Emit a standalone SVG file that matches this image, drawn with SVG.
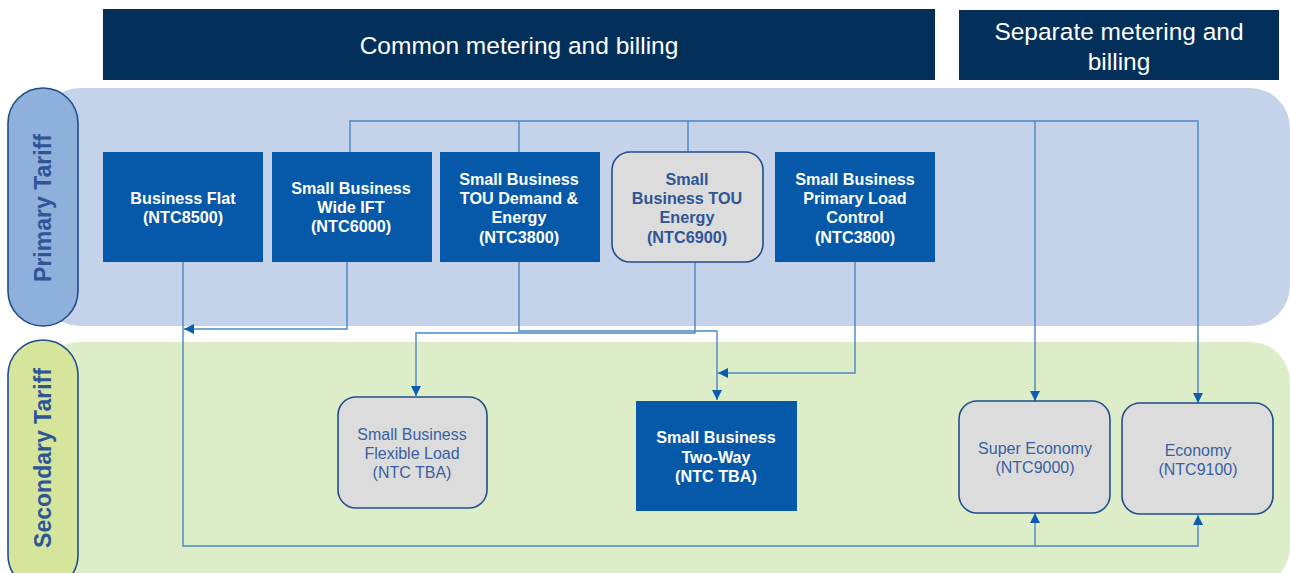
<svg xmlns="http://www.w3.org/2000/svg" width="1290" height="573" viewBox="0 0 1290 573">
  <style>
    text { font-family: "Liberation Sans", Arial, sans-serif; text-anchor: middle; dominant-baseline: central; }
    .hdr { fill: #03305a; }
    .hdr-t { fill: #ffffff; font-size: 24.5px; }
    .lane-t { fill: #2f5597; font-size: 23px; font-weight: bold; }
    .blue { fill: #0559a8; }
    .blue-t { fill: #ffffff; font-size: 16.2px; font-weight: bold; }
    .grey { fill: #dcdcdc; stroke: #1f4e8c; stroke-width: 1.6; }
    .grey-tb { fill: #2f5597; font-size: 16.2px; font-weight: bold; }
    .grey-t { fill: #3a5fa0; font-size: 16px; }
    .wire { fill: none; stroke: #4a86c5; stroke-width: 1.4; }
  </style>
  <defs>
    <marker id="arrow" viewBox="0 0 10 10" refX="10" refY="5" markerWidth="10" markerHeight="10" markerUnits="userSpaceOnUse" orient="auto">
      <path d="M0,0 L10,5 L0,10 Z" fill="#0a5db0"/>
    </marker>
  </defs>

  <!-- column headers -->
  <g id="hdr-common">
    <rect class="hdr" x="103" y="9" width="832" height="71"/>
    <text class="hdr-t" x="519" y="45">Common metering and billing</text>
  </g>
  <g id="hdr-separate">
    <rect class="hdr" x="959" y="10" width="320" height="70"/>
    <text class="hdr-t" x="1119" y="31">Separate metering and</text>
    <text class="hdr-t" x="1119" y="61">billing</text>
  </g>

  <!-- swim lanes -->
  <g id="lane-primary">
    <rect x="40" y="88" width="1250" height="238" rx="40" fill="#c5d3ea"/>
    <rect x="8" y="88" width="70" height="238" rx="35" fill="#8eb0da" stroke="#1f4e8c" stroke-width="1.6"/>
    <text class="lane-t" transform="translate(43 208) rotate(-90)">Primary Tariff</text>
  </g>
  <g id="lane-secondary">
    <rect x="40" y="342" width="1250" height="245" rx="40" fill="#ddedc8"/>
    <rect x="8" y="340" width="70" height="250" rx="35" fill="#d5e59b" stroke="#1f4e8c" stroke-width="1.6"/>
    <text class="lane-t" transform="translate(43 458) rotate(-90)">Secondary Tariff</text>
  </g>

  <!-- connectors -->
  <g id="connectors">
    <!-- top bus to separate-metering tariffs -->
    <path class="wire" d="M350,152 V121 H1198 V403" marker-end="url(#arrow)"/>
    <path class="wire" d="M519,152 V121"/>
    <path class="wire" d="M688,152 V121"/>
    <path class="wire" d="M1035,121 V401" marker-end="url(#arrow)"/>
    <!-- bottom bus from Business Flat -->
    <path class="wire" d="M183,262 V546 H1198 V515" marker-end="url(#arrow)"/>
    <path class="wire" d="M1035,546 V513" marker-end="url(#arrow)"/>
    <!-- Wide IFT back to Business Flat -->
    <path class="wire" d="M347,262 V329 H184" marker-end="url(#arrow)"/>
    <!-- TOU Demand & Energy to Two-Way -->
    <path class="wire" d="M519,262 V331 H717 V400" marker-end="url(#arrow)"/>
    <!-- TOU Energy to Flexible Load -->
    <path class="wire" d="M695,262 V333 H416 V396" marker-end="url(#arrow)"/>
    <!-- Primary Load Control to Two-Way -->
    <path class="wire" d="M855,262 V373 H718" marker-end="url(#arrow)"/>
  </g>

  <!-- primary tariffs -->
  <g id="business-flat">
    <rect class="blue" x="103" y="152" width="160" height="110"/>
    <text class="blue-t" x="183" y="198">Business Flat</text>
    <text class="blue-t" x="183" y="217">(NTC8500)</text>
  </g>
  <g id="wide-ift">
    <rect class="blue" x="272" y="152" width="160" height="110"/>
    <text class="blue-t" x="351" y="188">Small Business</text>
    <text class="blue-t" x="351" y="207">Wide IFT</text>
    <text class="blue-t" x="351" y="226">(NTC6000)</text>
  </g>
  <g id="tou-demand-energy">
    <rect class="blue" x="440" y="152" width="160" height="110"/>
    <text class="blue-t" x="519" y="179">Small Business</text>
    <text class="blue-t" x="519" y="198">TOU Demand &amp;</text>
    <text class="blue-t" x="519" y="217">Energy</text>
    <text class="blue-t" x="519" y="237">(NTC3800)</text>
  </g>
  <g id="tou-energy">
    <rect class="grey" x="612" y="152" width="151" height="110" rx="18"/>
    <text class="grey-tb" x="687" y="179">Small</text>
    <text class="grey-tb" x="687" y="198">Business TOU</text>
    <text class="grey-tb" x="687" y="217">Energy</text>
    <text class="grey-tb" x="687" y="237">(NTC6900)</text>
  </g>
  <g id="primary-load-control">
    <rect class="blue" x="775" y="152" width="160" height="110"/>
    <text class="blue-t" x="855" y="179">Small Business</text>
    <text class="blue-t" x="855" y="198">Primary Load</text>
    <text class="blue-t" x="855" y="217">Control</text>
    <text class="blue-t" x="855" y="237">(NTC3800)</text>
  </g>

  <!-- secondary tariffs -->
  <g id="flexible-load">
    <rect class="grey" x="338" y="397" width="149" height="111" rx="18"/>
    <text class="grey-t" x="412" y="434">Small Business</text>
    <text class="grey-t" x="412" y="453">Flexible Load</text>
    <text class="grey-t" x="412" y="472">(NTC TBA)</text>
  </g>
  <g id="two-way">
    <rect class="blue" x="636" y="401" width="161" height="110"/>
    <text class="blue-t" x="716" y="437">Small Business</text>
    <text class="blue-t" x="716" y="457">Two-Way</text>
    <text class="blue-t" x="716" y="476">(NTC TBA)</text>
  </g>
  <g id="super-economy">
    <rect class="grey" x="959" y="401" width="151" height="112" rx="18"/>
    <text class="grey-t" x="1035" y="448">Super Economy</text>
    <text class="grey-t" x="1035" y="467">(NTC9000)</text>
  </g>
  <g id="economy">
    <rect class="grey" x="1122" y="403" width="151" height="111" rx="18"/>
    <text class="grey-t" x="1198" y="450">Economy</text>
    <text class="grey-t" x="1198" y="469">(NTC9100)</text>
  </g>
</svg>
